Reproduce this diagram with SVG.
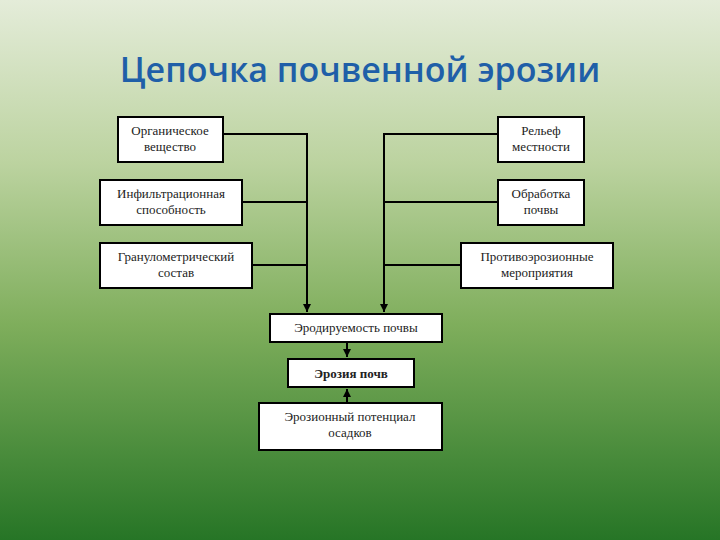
<svg xmlns="http://www.w3.org/2000/svg" width="720" height="540" viewBox="0 0 720 540">
<defs>
<linearGradient id="bg" x1="0" y1="0" x2="0" y2="1">
<stop offset="0" stop-color="#e4ecd9"/>
<stop offset="0.3" stop-color="#bcd3a0"/>
<stop offset="0.6" stop-color="#7fae5c"/>
<stop offset="1" stop-color="#267526"/>
</linearGradient>
<marker id="ah" viewBox="0 0 10 10" refX="10" refY="5" markerWidth="4" markerHeight="4" orient="auto"><path d="M0,0 L10,5 L0,10 z" fill="#000"/></marker>
</defs>
<style>
.b{fill:#fff;stroke:#000;stroke-width:2}
.t{font-family:"Liberation Serif",serif;font-size:13px;text-anchor:middle;fill:#222}
.c{fill:none;stroke:#000;stroke-width:2}
</style>
<rect width="720" height="540" fill="url(#bg)"/>
<text x="360" y="82" font-family="'Open Sans',sans-serif" font-weight="600" font-size="34" fill="#1f5fa8" text-anchor="middle">Цепочка почвенной эрозии</text>
<g id="connectors">
<path class="c" d="M223,134 H307 V312" marker-end="url(#ah)"/>
<path class="c" d="M242,202 H307"/>
<path class="c" d="M252,265 H307"/>
<path class="c" d="M498,134 H384 V312" marker-end="url(#ah)"/>
<path class="c" d="M498,202 H384"/>
<path class="c" d="M461,265 H384"/>
<path class="c" d="M347,342 V357" marker-end="url(#ah)"/>
<path class="c" d="M347,403 V389" marker-end="url(#ah)"/>
</g>
<g id="n1"><rect class="b" x="118" y="117" width="105" height="45"/><text class="t" x="170" y="135">Органическое</text><text class="t" x="170" y="151">вещество</text></g>
<g id="n2"><rect class="b" x="100" y="180" width="142" height="45"/><text class="t" x="171" y="198">Инфильтрационная</text><text class="t" x="171" y="214">способность</text></g>
<g id="n3"><rect class="b" x="100" y="243" width="152" height="45"/><text class="t" x="176" y="261">Гранулометрический</text><text class="t" x="176" y="277">состав</text></g>
<g id="n4"><rect class="b" x="498" y="117" width="86" height="45"/><text class="t" x="541" y="135">Рельеф</text><text class="t" x="541" y="151">местности</text></g>
<g id="n5"><rect class="b" x="498" y="180" width="86" height="45"/><text class="t" x="541" y="198">Обработка</text><text class="t" x="541" y="214">почвы</text></g>
<g id="n6"><rect class="b" x="461" y="243" width="152" height="45"/><text class="t" x="537" y="261">Противоэрозионные</text><text class="t" x="537" y="277">мероприятия</text></g>
<g id="n7"><rect class="b" x="270" y="314" width="172" height="28"/><text class="t" x="356" y="332">Эродируемость почвы</text></g>
<g id="n8"><rect class="b" x="288" y="359" width="126" height="28"/><text class="t" x="351" y="378" font-weight="bold" font-size="14">Эрозия почв</text></g>
<g id="n9"><rect class="b" x="259" y="403" width="183" height="47"/><text class="t" x="350" y="421">Эрозионный потенциал</text><text class="t" x="350" y="437">осадков</text></g>
</svg>
